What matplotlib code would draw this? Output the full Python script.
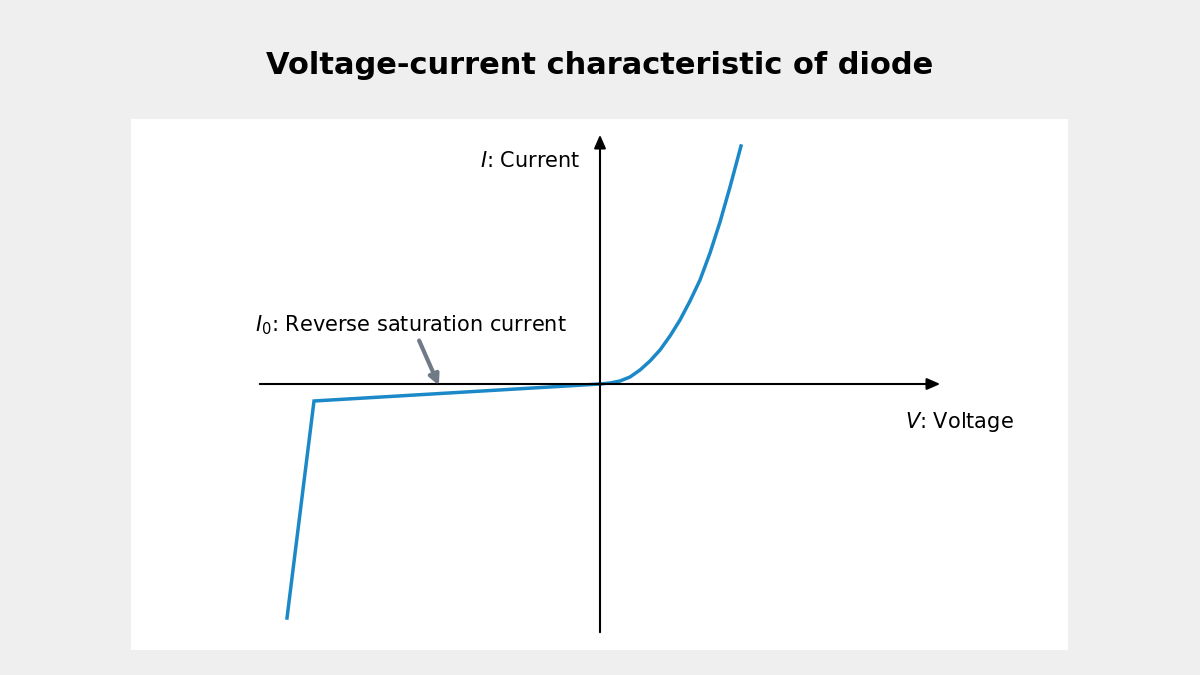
import matplotlib.pyplot as plt
import numpy as np

# curve (V, I in arbitrary units, origin at axis crossing)
v_reverse = [-3.13, -2.86, 0.0]
i_reverse = [-2.34, -0.17, 0.0]
v_forward = [0.0, 0.1, 0.2, 0.3, 0.4, 0.5, 0.6, 0.7, 0.8, 0.9, 1.0, 1.1, 1.2, 1.3, 1.41]
i_forward = [0.0, 0.01, 0.03, 0.07, 0.14, 0.23, 0.34, 0.48, 0.64, 0.83, 1.04, 1.31, 1.62, 1.97, 2.38]

curve_color = "#1b88c8"

fig = plt.figure(figsize=(12, 6.75), dpi=100, facecolor="#efefef")
ax = fig.add_axes([131 / 1200, 25 / 675, 937 / 1200, 531 / 675])
ax.set_facecolor("white")
ax.set_xlim(-4.69, 4.68)
ax.set_ylim(-2.66, 2.65)
for s in ax.spines.values():
    s.set_visible(False)
ax.set_xticks([])
ax.set_yticks([])

# axes with arrows
ax.annotate("", xy=(3.43, 0), xytext=(-3.43, 0),
            arrowprops=dict(arrowstyle="-|>,head_length=0.8,head_width=0.35", color="black", lw=1.5))
ax.annotate("", xy=(0, 2.52), xytext=(0, -2.51),
            arrowprops=dict(arrowstyle="-|>,head_length=0.8,head_width=0.35", color="black", lw=1.5))

ax.plot(v_reverse, i_reverse, color=curve_color, lw=2.5, solid_joinstyle="miter")
ax.plot(v_forward, i_forward, color=curve_color, lw=2.5)

ax.text(-0.2, 2.23, "$I$: Current", fontsize=15, ha="right", va="center")
ax.text(3.05, -0.38, "$V$: Voltage", fontsize=15, ha="left", va="center")
ax.text(-3.45, 0.59, "$I_0$: Reverse saturation current", fontsize=15, ha="left", va="center")
ax.annotate("", xy=(-1.6, -0.04), xytext=(-1.82, 0.46),
            arrowprops=dict(arrowstyle="-|>,head_length=0.6,head_width=0.3", color="#6f7a86", lw=3))

fig.text(0.5, 1 - 65 / 675, "Voltage-current characteristic of diode", fontsize=22,
         fontweight="bold", ha="center", va="center")

fig.savefig("out.png", dpi=100, facecolor=fig.get_facecolor())
